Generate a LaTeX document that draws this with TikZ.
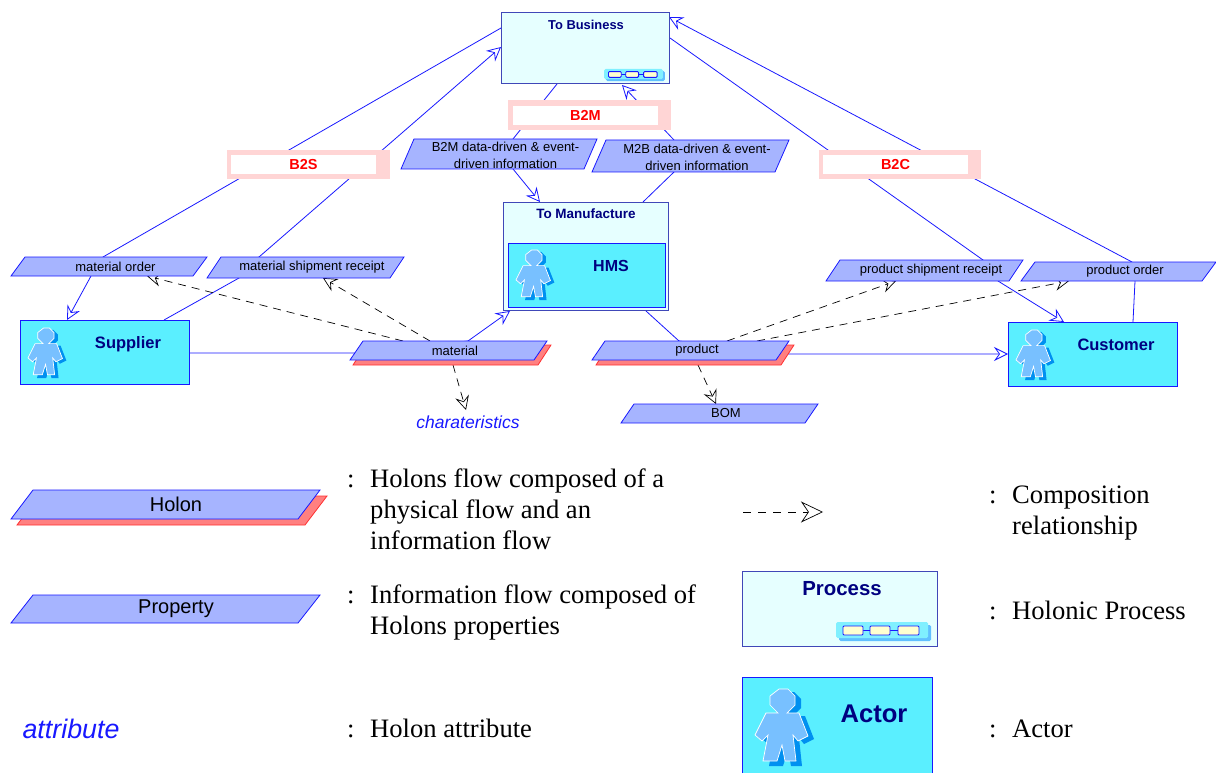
\documentclass[tikz,border=0pt]{standalone}
\usepackage{fontspec}
\setmainfont{Liberation Serif}
\newfontfamily\arialf{Liberation Sans}
\usetikzlibrary{arrows.meta,calc,backgrounds}
\definecolor{lnblue}{HTML}{1818FF}
\definecolor{pgfill}{HTML}{A6B4FF}
\definecolor{actfill}{HTML}{5AEFFF}
\definecolor{procfill}{HTML}{E6FFFF}
\definecolor{procline}{HTML}{4048B8}
\definecolor{navy}{HTML}{000080}
\definecolor{pinkb}{HTML}{FFD5D5}
\definecolor{shfill}{HTML}{FF8080}
\definecolor{shline}{HTML}{FF3030}
\definecolor{figfill}{HTML}{78C0FF}
\definecolor{figshad}{HTML}{0090F0}
\definecolor{chainbg}{HTML}{80F0FF}
\definecolor{chainsh}{HTML}{60C0FF}
\definecolor{chainrc}{HTML}{FFFFD0}
\newcommand{\fsz}[1]{\fontsize{#1}{#1}\selectfont}
\newcommand{\ot}{\hspace*{13pt}}
\newcommand{\toprl}{\rule{0pt}{12pt}}
\tikzset{
  pgshape/.style={draw=lnblue,fill=pgfill,line width=0.8pt,line join=miter},
  shshape/.style={draw=shline,fill=shfill,line width=0.8pt,line join=miter},
  pgtext/.style={rectangle,inner sep=0pt,outer sep=0pt,align=center,font=\arialf\fontsize{13}{17}\selectfont},
  procbox/.style={rectangle,draw=procline,fill=procfill,line width=1pt,inner sep=0pt,outer sep=0pt},
  actbox/.style={rectangle,draw=lnblue,fill=actfill,line width=1pt,inner sep=0pt,outer sep=0pt},
  titlet/.style={inner sep=0pt,text=navy,font=\arialf\bfseries\fsz{#1}},
  pinkout/.style={rectangle,fill=pinkb,inner sep=0pt,outer sep=0pt,minimum height=29.5pt,minimum width=163pt},
  pinkin/.style={rectangle,fill=white,inner sep=0pt,outer sep=0pt,minimum height=19pt,minimum width=145pt,
    text=red,font=\arialf\bfseries\fsz{14.5}},
  conn/.style={draw=lnblue,line width=0.8pt},
  comp/.style={draw=black,line width=0.7pt,dash pattern=on 8pt off 6pt},
  bluetip/.style={-{Stealth[length=14pt,width=14pt,inset=5pt,fill=white,line width=0.8pt]}},
  blacktip/.style={-{Stealth[length=14pt,width=14pt,inset=5pt,fill=white,line width=0.7pt]}},
  legtext/.style={anchor=north west,inner sep=0pt,align=left,font=\fontsize{26.6}{31}\selectfont},
}
% \pgnode{name}{cx}{cy}{w}{h}{slant}{shape style}{extra node style}{text}
\newcommand{\pgnode}[9]{%
  \path[#7] ({#2-#4/2},{#3+#5/2}) -- ({#2-#4/2+#6},{#3-#5/2}) -- ({#2+#4/2},{#3-#5/2}) -- ({#2+#4/2-#6},{#3+#5/2}) -- cycle;
  \node[pgtext,minimum width=#4 pt,minimum height=#5 pt,#8] (#1) at (#2,#3) {#9};}
\newcommand{\actorfig}[3]{%
  \begin{scope}[shift={(#1,#2)},scale=#3]
    \fill[figshad] (30,3)--(39,3)--(46,10)--(46,19)--(38,27)--(50,27)--(59,50)--(49,55)--(44,49)--(47,77)--(36,77)--(33,61)--(28,77)--(14,77)--(19,49)--(13,55)--(6,49)--(17,27)--(29,27)--(21,19)--(21,10)--cycle;
    \draw[white,fill=figfill,line width=0.7pt] (24,0)--(33,0)--(40,7)--(40,16)--(32,24)--(44,24)--(53,47)--(43,52)--(38,46)--(41,72)--(30,72)--(27,56)--(22,72)--(8,72)--(13,46)--(7,52)--(0,46)--(11,24)--(23,24)--(15,16)--(15,7)--cycle;
  \end{scope}}
\newcommand{\chainicon}[3]{%
  \begin{scope}[shift={(#1,#2)},scale=#3]
    \fill[chainsh,rounded corners=1.5pt] (3,3) rectangle (95,19);
    \fill[chainbg,rounded corners=1.5pt] (0,0) rectangle (92,16);
    \draw[lnblue,line width=0.9pt] (27,8.5)--(34,8.5) (54,8.5)--(62,8.5);
    \draw[lnblue,fill=chainrc,line width=0.9pt,rounded corners=1pt] (7,4) rectangle (27,13) (34,4) rectangle (54,13) (62,4) rectangle (83,13);
  \end{scope}}
\begin{document}
\begin{tikzpicture}[x=1pt,y=-1pt]
\useasboundingbox (0,0) rectangle (1216,773);
% process boxes
\node[procbox,minimum width=168pt,minimum height=71pt] (tb) at (585,48.5) {};
\node[titlet=12.9] (tbt) at (586,25) {To Business};
\chainicon{604}{69}{0.64}
\node[procbox,minimum width=165pt,minimum height=108pt] (tm) at (585.5,256) {};
\node[titlet=13.5] (tmt) at (586,214) {To Manufacture};
\node[actbox,minimum width=157pt,minimum height=64pt] (hms) at (586.5,275) {};
\node[titlet=16] (hmst) at (611,266) {HMS};
\actorfig{516}{250}{0.65}
% actors
\node[actbox,minimum width=169pt,minimum height=64pt] (sup) at (104.5,352) {};
\node[titlet=16.5] (supt) at (128,344) {Supplier};
\actorfig{28}{328}{0.65}
\node[actbox,minimum width=169pt,minimum height=64pt] (cus) at (1092.5,354) {};
\node[titlet=16.5] (cust) at (1116,345) {Customer};
\actorfig{1016}{330}{0.65}
% labels
\node[pinkout] (b2s) at (308.5,164.5) {};
\node[pinkin] (b2st) at (303.5,164.5) {B2S};
\node[pinkout] (b2m) at (589.5,114.8) {};
\node[pinkin] (b2mt) at (585.5,115.5) {B2M};
\node[pinkout,minimum width=162pt] (b2c) at (900,164.5) {};
\node[pinkin] (b2ct) at (895.5,164.5) {B2C};
% parallelograms
\pgnode{b2md}{499}{154}{196}{30}{13}{pgshape}{}{\toprl\ot B2M data-driven \& event-\\\ot driven information}
\pgnode{m2bd}{690.5}{156}{197}{32}{14}{pgshape}{}{\toprl\ot M2B data-driven \& event-\\\ot driven information}
\pgnode{mo}{109}{266.5}{196}{19}{14}{pgshape}{}{\ot material order}
\pgnode{msr}{305.5}{267.5}{197}{21}{14}{pgshape}{}{\ot material shipment receipt}
\pgnode{psr}{924.5}{270.5}{197}{21}{14}{pgshape}{}{\ot product shipment receipt}
\pgnode{po}{1118.5}{271.5}{195}{19}{14}{pgshape}{}{\ot product order}
\pgnode{matsh}{452}{355}{198}{20}{13}{shshape}{}{}
\pgnode{mat}{448.5}{350.5}{197}{19}{13}{pgshape}{}{\ot material}
\pgnode{prodsh}{695}{355}{198}{20}{13}{shshape}{}{}
\pgnode{prod}{690.5}{350.5}{197}{19}{13}{pgshape}{}{\ot product}
\pgnode{bom}{719.5}{413.5}{197}{19}{13}{pgshape}{}{\ot BOM}
\node[inner sep=0pt,text=lnblue,font=\arialf\itshape\fsz{17.5}] (chars) at (468,422) {charateristics};
% legend
\pgnode{lhs}{172}{510.5}{310}{29}{22}{shshape}{}{}
\pgnode{lh}{165.5}{504.5}{309}{29}{22}{pgshape}{font=\arialf\fsz{20}}{\hspace*{21pt}Holon}
\pgnode{lp}{165.5}{609}{309}{28}{22}{pgshape}{font=\arialf\fsz{20}}{\hspace*{21pt}Property}
\node[inner sep=0pt,text=lnblue,font=\arialf\itshape\fsz{26.8}] (lat) at (71,729) {attribute};
\node[legtext] (c1) at (347,465.5) {\strut:};
\node[legtext] (t1) at (370,465.5) {\strut Holons flow composed of a\\physical flow and an\\information flow};
\node[legtext] (c2) at (347,581.5) {\strut:};
\node[legtext] (t2) at (370,581.5) {\strut Information flow composed of\\Holons properties};
\node[legtext] (c3) at (347,715.5) {\strut:};
\node[legtext] (t3) at (370,715.5) {\strut Holon attribute};
\node[legtext] (c4) at (989,481.5) {\strut:};
\node[legtext] (t4) at (1012,481.5) {\strut Composition\\relationship};
\node[legtext] (c5) at (989,597.5) {\strut:};
\node[legtext] (t5) at (1012,597.5) {\strut Holonic Process};
\node[legtext] (c6) at (989,715.5) {\strut:};
\node[legtext] (t6) at (1012,715.5) {\strut Actor};
\node[procbox,minimum width=195pt,minimum height=75pt] (lproc) at (839.5,608.5) {};
\node[titlet=20.4] (lproct) at (842,589) {Process};
\chainicon{836}{622}{1}
\node[actbox,minimum width=190pt,minimum height=98pt] (lact) at (837,726) {};
\node[titlet=25.6] (lactt) at (874,714) {Actor};
\actorfig{755}{689}{1}
\coordinate (lega) at (743,512);
\coordinate (legb) at (823,512);
\draw[black,line width=0.7pt,dash pattern=on 8pt off 7pt,-{Stealth[length=22pt,width=21pt,inset=7pt,fill=white,line width=0.7pt]}] (lega) -- (legb);
% connectors
\begin{scope}[on background layer]
\draw[conn,bluetip] ($(tb.north west)+(0,15)$) -- ($(mo.north)+(-6,0)$) -- ($(mo.south)+(-18,0)$) -- ($(sup.north west)+(47,0)$);
\draw[conn,bluetip] ($(sup.north west)+(144,0)$) -- ($(msr.south)+(-66.5,0)$) -- ($(msr.north)+(-46.5,0)$) -- ($(tb.north west)+(0,34)$);
\draw[conn,bluetip] ($(tb.south west)+(56,0)$) -- ($(b2md.north)+(14,0)$) -- ($(b2md.south)+(14,0)$) -- ($(tm.north west)+(37,0)$);
\draw[conn,bluetip] ($(tm.north west)+(140,0)$) -- ($(m2bd.south)+(-16.5,0)$) -- ($(m2bd.north)+(-16.5,0)$) -- ($(tb.south west)+(121,1)$);
\draw[conn,bluetip] ($(cus.north west)+(125,0)$) -- ($(po.south)+(16.5,0)$) -- ($(po.north)+(13.5,0)$) -- ($(tb.north east)+(0,4)$);
\draw[conn,bluetip] ($(tb.north east)+(1,25)$) -- ($(psr.north)+(58.5,0)$) -- ($(psr.south)+(73.5,0)$) -- ($(cus.north west)+(56,0)$);
\draw[conn,bluetip] ($(sup.east)+(0,1)$) -- ($(mat.center)+(-90,2.5)$) -- ($(mat.north)+(19.5,0)$) -- ($(tm.south west)+(7,1)$);
\draw[conn,bluetip] ($(tm.south west)+(143,1)$) -- ($(prod.north)+(-11.5,0)$) -- ($(prod.center)+(90,3.5)$) -- (cus.west);
\draw[comp,blacktip] ($(mat.north)+(-18.5,0)$) -- ($(msr.south)+(17.5,0)$);
\draw[comp,blacktip] ($(mat.north)+(-45.5,0)$) -- ($(mo.south)+(38,0)$);
\draw[comp,blacktip] ($(matsh.south)+(1,0)$) -- ($(chars.center)+(-2,-12)$);
\draw[comp,blacktip] ($(prod.north)+(36.5,0)$) -- ($(psr.south)+(-28.5,0)$);
\draw[comp,blacktip] ($(prod.north)+(66.5,0)$) -- ($(po.south)+(-49.5,0)$);
\draw[comp,blacktip] ($(prodsh.south)+(3,0)$) -- ($(bom.north)+(-3.5,0)$);
\end{scope}
\end{tikzpicture}
\end{document}
